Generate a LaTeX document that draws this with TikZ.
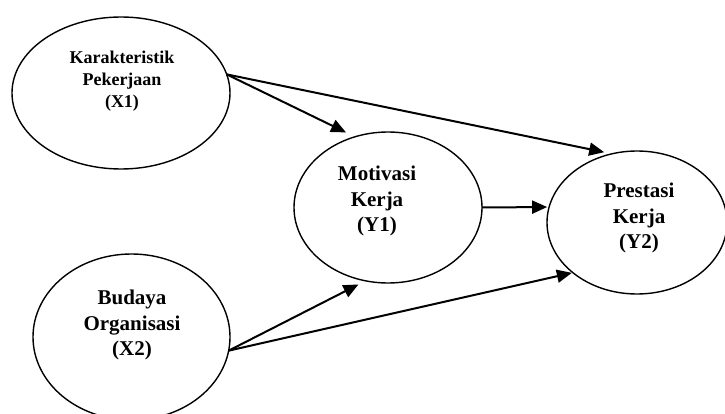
\documentclass[tikz,border=0pt]{standalone}
\usepackage{fontspec}
\setmainfont{Liberation Serif}
\usetikzlibrary{shapes.geometric,arrows.meta}
\begin{document}
\begin{tikzpicture}[x=1pt,y=-1pt,
  var/.style={ellipse, draw, line width=1.4pt, inner sep=0pt, outer sep=0pt},
  lbl/.style={align=center, font=\fontsize{21}{25.5}\selectfont\bfseries, inner sep=0pt},
  lblsmall/.style={align=center, font=\fontsize{18}{22}\selectfont\bfseries, inner sep=0pt},
  arr/.style={line width=2pt, -{Triangle[length=15pt,width=13pt]}}
]
\useasboundingbox (0,0) rectangle (725,414);
\node[var, minimum width=218pt, minimum height=152pt] (x1) at (121,93) {};
\node[var, minimum width=197pt, minimum height=166pt] (x2) at (131.5,337) {};
\node[var, minimum width=188pt, minimum height=151pt] (y1) at (388,207.5) {};
\node[var, minimum width=180pt, minimum height=143pt] (y2) at (637,222.5) {};

\node[lblsmall] (x1t) at (122,81) {Karakteristik\\Pekerjaan\\(X1)};
\node[lbl] (x2t) at (132,325) {Budaya\\Organisasi\\(X2)};
\node[lbl] (y1t) at (377,201) {Motivasi\\Kerja\\(Y1)};
\node[lbl] (y2t) at (639,218) {Prestasi\\Kerja\\(Y2)};

\draw[arr, shorten >=10pt] (x1.10) -- (y1.115);
\draw[arr, shorten >=8pt] (x1.10) -- (y2.110);
\draw[arr, shorten >=2pt] (y1.east) -- (y2.170);
\draw[arr, shorten >=8pt] (x2.-8) -- (y1.253);
\draw[arr, shorten >=1pt] (x2.-8) -- (y2.218);
\end{tikzpicture}
\end{document}
